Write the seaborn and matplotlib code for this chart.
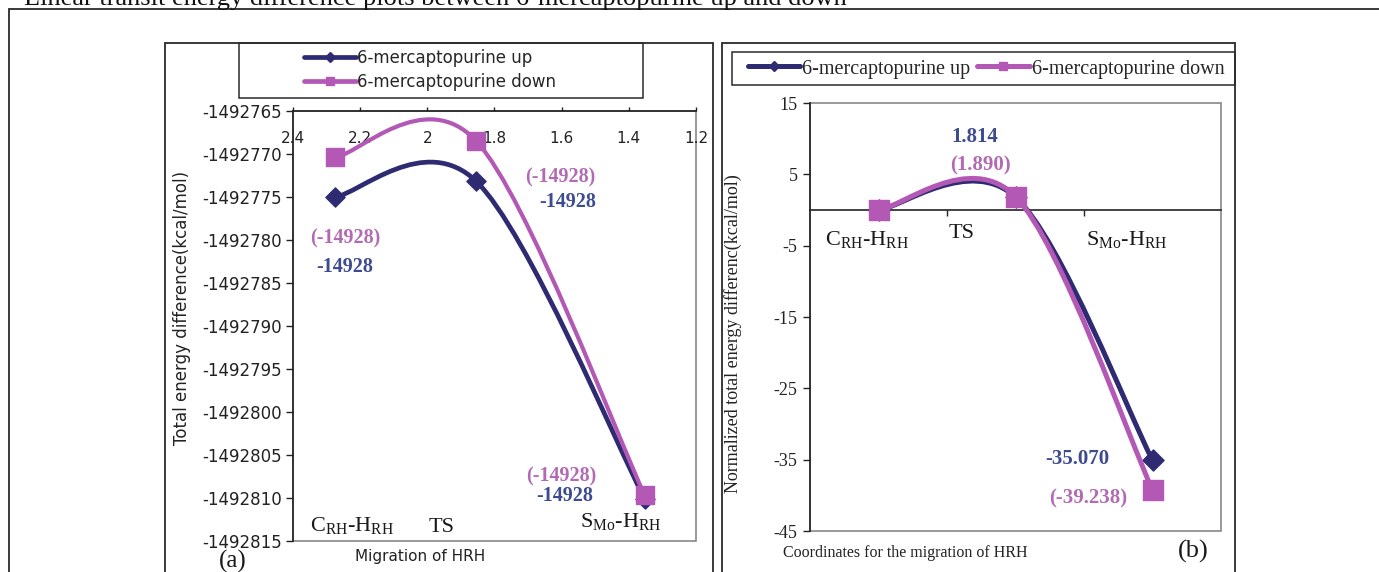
import numpy as np
import pandas as pd
import matplotlib
matplotlib.use("Agg")
import matplotlib.pyplot as plt
import seaborn as sns
from matplotlib.path import Path
from matplotlib.patches import PathPatch, Rectangle
from matplotlib.lines import Line2D

# ---------------- data ----------------
series_names = ["6-mercaptopurine up", "6-mercaptopurine down"]
stage_labels = [r"C$_{\mathrm{RH}}$-H$_{\mathrm{RH}}$", "TS", r"S$_{\mathrm{Mo}}$-H$_{\mathrm{RH}}$"]
hrh_distance = [2.275, 1.854, 1.353]
energy_up = [-1492775.00, -1492773.19, -1492810.07]
energy_down = [-1492770.40, -1492768.51, -1492809.64]
norm_up = [0.0, 1.814, -35.070]
norm_down = [0.0, 1.890, -39.238]
left_yticks = [-1492765, -1492770, -1492775, -1492780, -1492785, -1492790,
               -1492795, -1492800, -1492805, -1492810, -1492815]
left_xticks = [2.4, 2.2, 2.0, 1.8, 1.6, 1.4, 1.2]
left_xticklabels = ["2.4", "2.2", "2", "1.8", "1.6", "1.4", "1.2"]
right_yticks = [15, 5, -5, -15, -25, -35, -45]
left_up_notes = ["-14928", "-14928", "-14928"]
left_down_notes = ["(-14928)", "(-14928)", "(-14928)"]
right_up_notes = ["1.814", "-35.070"]
right_down_notes = ["(1.890)", "(-39.238)"]
title_text = "Linear transit energy difference plots between 6-mercaptopurine up and down"

# ---------------- style ----------------
sns.set_theme(style="white")
plt.rcParams["font.family"] = ["DejaVu Sans"]
plt.rcParams["mathtext.fontset"] = "custom"
plt.rcParams["mathtext.rm"] = "Liberation Serif"
plt.rcParams["mathtext.it"] = "Liberation Serif:italic"
plt.rcParams["mathtext.bf"] = "Liberation Serif:bold"

NAVY = "#2E2B72"
PINK = "#B359B5"
NAVY_T = "#3D4C91"
PINK_T = "#B26BB3"
GRAY = "#878787"
SERIF = "Liberation Serif"
SANS = "DejaVu Sans"

W, H = 1379, 572
LBOX = (293, 111, 696, 541)   # left, top, right, bottom (px)
RBOX = (810, 103, 1221, 531)


def axes_rect(b):
    l, t, r, bm = b
    return [l / W, 1 - bm / H, (r - l) / W, (bm - t) / H]


def in_ax(b, x, y):
    l, t, r, bm = b
    return (x - l) / (r - l), (bm - y) / (bm - t)


def fxy(x, y):
    return x / W, 1 - y / H


def smooth_path(xs, ys):
    pts = np.column_stack([xs, ys]).astype(float)
    n = len(pts)
    verts = [pts[0]]
    codes = [Path.MOVETO]
    for i in range(n - 1):
        p0 = pts[i - 1] if i > 0 else pts[i]
        p1 = pts[i]
        p2 = pts[i + 1]
        p3 = pts[i + 2] if i + 2 < n else pts[i + 1]
        verts += [p1 + (p2 - p0) / 6.0, p2 - (p3 - p1) / 6.0, p2]
        codes += [Path.CURVE4] * 3
    return Path(verts, codes)


fig = plt.figure(figsize=(W / 100, H / 100), dpi=100)
fig.patch.set_facecolor("white")

# outer frame and panel boxes
for (x0, y0, x1, y1, lw) in [(9, 9, 1390, 600, 1.3), (165, 43, 713, 600, 1.3),
                             (722, 43, 1235, 600, 1.3), (239, 43, 643, 98, 1.1),
                             (732, 52, 1235, 85, 1.1)]:
    fig.add_artist(Rectangle(fxy(x0, y1), (x1 - x0) / W, (y1 - y0) / H,
                             transform=fig.transFigure, fill=False,
                             ec="#2a2a2a", lw=lw, clip_on=False))

fig.text(*fxy(24, 5), title_text, ha="left", va="baseline",
         fontsize=19, family=SERIF, color="#111111")

# ---------------- left panel ----------------
axl = fig.add_axes(axes_rect(LBOX))
df_l = pd.DataFrame({"x": hrh_distance * 2, "y": energy_up + energy_down,
                     "series": [series_names[0]] * 3 + [series_names[1]] * 3})
axl.add_patch(PathPatch(smooth_path(hrh_distance, energy_up), fill=False,
                        ec=NAVY, lw=3.4, zorder=3, capstyle="round"))
sns.scatterplot(data=df_l[df_l.series == series_names[0]], x="x", y="y",
                marker="D", s=95, color=NAVY, edgecolor=NAVY, linewidth=1,
                ax=axl, zorder=4, legend=False)
axl.add_patch(PathPatch(smooth_path(hrh_distance, energy_down), fill=False,
                        ec=PINK, lw=3.0, zorder=5, capstyle="round"))
sns.scatterplot(data=df_l[df_l.series == series_names[1]], x="x", y="y",
                marker="s", s=150, color=PINK, edgecolor=PINK, linewidth=1,
                ax=axl, zorder=6, legend=False)
axl.set_xlim(2.4, 1.2)
axl.set_ylim(-1492815, -1492765)
axl.set_yticks(left_yticks)
axl.set_yticklabels([str(v) for v in left_yticks], fontsize=12, family=SANS)
axl.xaxis.set_ticks_position("top")
axl.set_xticks(left_xticks)
axl.set_xticklabels(left_xticklabels, fontsize=11, family=SANS)
axl.tick_params(axis="x", direction="out", length=3, width=1, pad=-28,
                colors="#222222", top=True, bottom=False,
                labeltop=True, labelbottom=False)
axl.tick_params(axis="y", direction="out", length=5, width=1, pad=3,
                colors="#222222", left=True)
for s in ["right", "bottom"]:
    axl.spines[s].set_visible(False)
for s in ["left", "top"]:
    axl.spines[s].set_color("#222222")
    axl.spines[s].set_linewidth(1.2)
axl.add_patch(Rectangle((0, 0), 1, 1, transform=axl.transAxes, fill=False,
                        ec=GRAY, lw=1.2, clip_on=False, zorder=0.5))
axl.set_ylabel("Total energy difference(kcal/mol)", fontsize=12, family=SANS,
               color="#222222")
axl.yaxis.label.set_verticalalignment("center")
axl.yaxis.set_label_coords(*in_ax(LBOX, 182, 308))
axl.xaxis.set_label_position("bottom")
axl.set_xlabel("Migration of HRH", fontsize=11, family=SANS, color="#222222")
axl.xaxis.label.set_verticalalignment("center")
axl.xaxis.set_label_coords(*in_ax(LBOX, 420, 557))

lpos_down = [(345, 238), (560, 177), (561, 476)]
lpos_up = [(345, 267), (568, 202), (565, 496)]
for s, (x, y) in zip(left_down_notes, lpos_down):
    axl.text(*in_ax(LBOX, x, y), s, transform=axl.transAxes, ha="center",
             va="center", fontsize=14.5, family=SERIF, weight="bold", color=PINK_T)
for s, (x, y) in zip(left_up_notes, lpos_up):
    axl.text(*in_ax(LBOX, x, y), s, transform=axl.transAxes, ha="center",
             va="center", fontsize=14.5, family=SERIF, weight="bold", color=NAVY_T)
for s, (x, y) in zip(stage_labels, [(352, 525), (442, 527), (621, 522)]):
    axl.text(*in_ax(LBOX, x, y), s, transform=axl.transAxes, ha="center",
             va="center", fontsize=16, family=SERIF, color="#1a1a1a")
fig.text(*fxy(233, 561), "(a)", ha="center", va="center", fontsize=18,
         family=SERIF, color="#1a1a1a")

handles_l = [Line2D([], [], color=NAVY, lw=3.4, marker="D", ms=5, mfc=NAVY, mec=NAVY),
             Line2D([], [], color=PINK, lw=3.4, marker="s", ms=6, mfc=PINK, mec=PINK)]
fig.legend(handles_l, series_names, loc="center", bbox_to_anchor=fxy(430, 70),
           frameon=False, prop={"family": SANS, "size": 12}, handlelength=3.1,
           handletextpad=0.05, labelspacing=0.4, borderpad=0)

# ---------------- right panel ----------------
axr = fig.add_axes(axes_rect(RBOX))
idx = list(range(len(stage_labels)))
axr.add_patch(PathPatch(smooth_path(idx, norm_up), fill=False, ec=NAVY,
                        lw=3.6, zorder=3, capstyle="round"))
sns.scatterplot(x=idx, y=norm_up, marker="D", s=115, color=NAVY,
                edgecolor=NAVY, linewidth=1, ax=axr, zorder=4, legend=False)
axr.add_patch(PathPatch(smooth_path(idx, norm_down), fill=False, ec=PINK,
                        lw=3.6, zorder=5, capstyle="round"))
sns.scatterplot(x=idx, y=norm_down, marker="s", s=200, color=PINK,
                edgecolor=PINK, linewidth=1, ax=axr, zorder=6, legend=False)
axr.set_xlim(-0.5, len(stage_labels) - 0.5)
axr.set_ylim(-45, 15)
axr.set_yticks(right_yticks)
axr.set_yticklabels([str(v) for v in right_yticks], fontsize=13, family=SERIF)
axr.set_xticks([0.5, 1.5])
axr.set_xticklabels(["", ""])
axr.spines["bottom"].set_position(("data", 0))
for s in ["right", "top"]:
    axr.spines[s].set_visible(False)
for s in ["left", "bottom"]:
    axr.spines[s].set_color("#222222")
    axr.spines[s].set_linewidth(1.2)
axr.tick_params(axis="x", direction="out", length=4.5, width=1, colors="#222222",
                bottom=True)
axr.tick_params(axis="y", direction="out", length=5, width=1, pad=4,
                colors="#222222", left=True)
axr.add_patch(Rectangle((0, 0), 1, 1, transform=axr.transAxes, fill=False,
                        ec=GRAY, lw=1.2, clip_on=False, zorder=0.5))
axr.set_ylabel("Normalized total energy differenc(kcal/mol)", fontsize=13,
               family=SERIF, color="#222222")
axr.yaxis.label.set_verticalalignment("center")
axr.yaxis.set_label_coords(*in_ax(RBOX, 733, 334))
axr.set_xlabel("Coordinates for the migration of HRH", fontsize=11.5,
               family=SERIF, color="#222222")
axr.xaxis.label.set_verticalalignment("center")
axr.xaxis.set_label_coords(*in_ax(RBOX, 905, 553))

for s, (x, y) in zip(right_up_notes, [(975, 137), (1077, 459)]):
    axr.text(*in_ax(RBOX, x, y), s, transform=axr.transAxes, ha="center",
             va="center", fontsize=15, family=SERIF, weight="bold", color=NAVY_T)
for s, (x, y) in zip(right_down_notes, [(980, 165), (1088, 498)]):
    axr.text(*in_ax(RBOX, x, y), s, transform=axr.transAxes, ha="center",
             va="center", fontsize=15, family=SERIF, weight="bold", color=PINK_T)
for s, (x, y) in zip(stage_labels, [(867, 240), (962, 233), (1127, 240)]):
    axr.text(*in_ax(RBOX, x, y), s, transform=axr.transAxes, ha="center",
             va="center", fontsize=16, family=SERIF, color="#1a1a1a")
fig.text(*fxy(1193, 551), "(b)", ha="center", va="center", fontsize=19,
         family=SERIF, color="#1a1a1a")

handles_r = [Line2D([], [], color=NAVY, lw=3.6, marker="D", ms=5, mfc=NAVY, mec=NAVY),
             Line2D([], [], color=PINK, lw=3.6, marker="s", ms=6, mfc=PINK, mec=PINK)]
fig.legend(handles_r, series_names, loc="center", bbox_to_anchor=fxy(986, 69),
           ncol=2, frameon=False, prop={"family": SERIF, "size": 14.5},
           handlelength=2.6, handletextpad=0.1, columnspacing=0.35, borderpad=0)

fig.savefig("out.png", dpi=100, facecolor="white")
